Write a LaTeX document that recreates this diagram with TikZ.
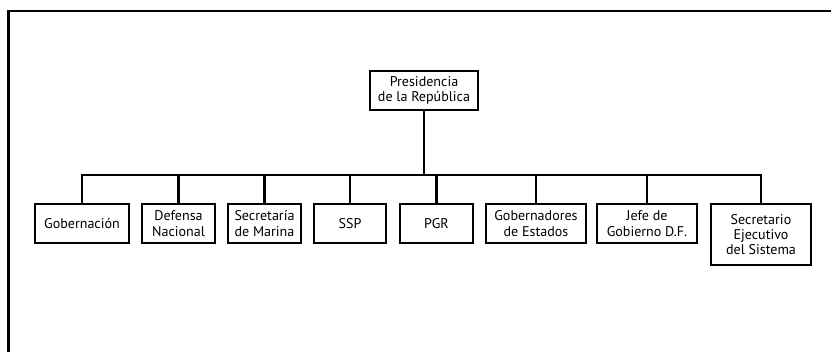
\documentclass[tikz,border=0pt]{standalone}
\usepackage{fontspec}
\setmainfont{PT Sans}
\usetikzlibrary{positioning}
\tikzset{
    unidad/.style={draw, line width=1.8pt, align=center, anchor=north, inner sep=1pt,
        font=\fontsize{12}{13.2}\selectfont},
    enlace/.style={line width=1.8pt}
}
\begin{document}
\begin{tikzpicture}[x=0.03cm,y=-0.03cm]
        \useasboundingbox (0,0) rectangle (831,351);
        %Marco
        \begin{scope}
            \clip (0,0) rectangle (831,351);
            \draw[enlace] (8.5,11) rectangle (860,380);
        \end{scope}
        %Presidencia y barra
        \node[unidad, minimum width=3.24cm, minimum height=1.17cm] (pres) at (424,70) {Presidencia\\de la República};
        \coordinate (barra) at (pres.south |- 0,175);
        \draw[enlace] (pres.south) -- (barra);
        %Dependencias
        \foreach \x/\w/\h/\nombre/\texto in {82/2.82/1.17/gob/{Gobernación},
            178.5/2.19/1.17/def/{Defensa\\Nacional},
            264.5/2.19/1.17/mar/{Secretaría\\de Marina},
            350/2.16/1.17/ssp/{SSP},
            436.5/2.19/1.17/pgr/{PGR},
            536/3/1.17/gest/{Gobernadores\\de Estados},
            647/3/1.17/jefe/{Jefe de\\Gobierno D.F.},
            761/3/1.83/sesp/{Secretario\\Ejecutivo\\del Sistema}}
        {
            \node[unidad, minimum width=\w cm, minimum height=\h cm] (\nombre) at (\x,203) {\texto};
            \draw[enlace] (\nombre.north) |- (barra);
        }
    \end{tikzpicture}
\end{document}
